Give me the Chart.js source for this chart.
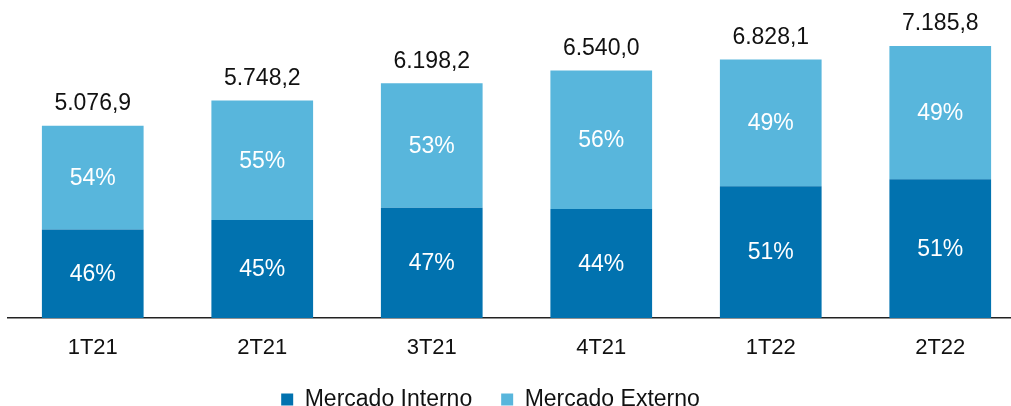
<!DOCTYPE html>
<html>
<head>
<meta charset="utf-8">
<script src="https://cdn.jsdelivr.net/npm/chart.js@4.4.1/dist/chart.umd.min.js"></script>
<style>
    html, body { margin: 0; padding: 0; background: #fff; overflow: hidden; width: 1011px; height: 406px; }
    #wrap { width: 1025px; height: 421px; }
</style>
</head>
<body>
<div id="wrap"><canvas id="receitaChart"></canvas></div>
<script>
const periods = ['1T21', '2T21', '3T21', '4T21', '1T22', '2T22'];
const totals = [5076.9, 5748.2, 6198.2, 6540.0, 6828.1, 7185.8];
const internoPct = [46, 45, 47, 44, 51, 51];
const externoPct = [54, 55, 53, 56, 49, 49];

const FONT = '"Liberation Sans", Arial, sans-serif';

// segment values built from totals and shares
const internoValues = totals.map((t, i) => t * internoPct[i] / 100);
const externoValues = totals.map((t, i) => t * externoPct[i] / 100);

const formatTotal = (v) => {
    const parts = v.toFixed(1).split('.');
    const intPart = parts[0].replace(/\B(?=(\d{3})+(?!\d))/g, '.');
    return intPart + ',' + parts[1];
};

// draws the % inside each segment and the total above the stack
const labelsPlugin = {
    id: 'barLabels',
    afterLayout(chart) {
        // legend sits a bit left of the canvas centre in the original
        chart.legend.left -= 26;
        chart.legend.right -= 26;
    },
    afterDatasetsDraw(chart) {
        const ctx = chart.ctx;
        ctx.save();
        ctx.font = '23px ' + FONT;
        ctx.textAlign = 'center';
        ctx.textBaseline = 'middle';

        const pctSets = [internoPct, externoPct];
        chart.data.datasets.forEach((ds, di) => {
            const meta = chart.getDatasetMeta(di);
            meta.data.forEach((bar, i) => {
                const mid = (bar.y + bar.base) / 2;
                ctx.fillStyle = '#ffffff';
                ctx.fillText(pctSets[di][i] + '%', bar.x, mid + 1);
            });
        });

        const topMeta = chart.getDatasetMeta(1);
        topMeta.data.forEach((bar, i) => {
            ctx.fillStyle = '#111111';
            ctx.fillText(formatTotal(totals[i]), bar.x, bar.y - 22);
        });
        ctx.restore();
    }
};

new Chart(document.getElementById('receitaChart'), {
    type: 'bar',
    data: {
        labels: periods,
        datasets: [
            {
                label: 'Mercado Interno',
                data: internoValues,
                backgroundColor: '#0172AF',
                barPercentage: 0.6,
                categoryPercentage: 1
            },
            {
                label: 'Mercado Externo',
                data: externoValues,
                backgroundColor: '#58B6DC',
                barPercentage: 0.6,
                categoryPercentage: 1
            }
        ]
    },
    options: {
        responsive: true,
        maintainAspectRatio: false,
        animation: false,
        layout: { padding: { left: 8, right: 0, top: 0, bottom: 0 } },
        plugins: {
            legend: {
                position: 'bottom',
                labels: {
                    font: { family: FONT, size: 23 },
                    color: '#111111',
                    boxWidth: 12,
                    boxHeight: 12,
                    padding: 29
                }
            },
            tooltip: { enabled: false }
        },
        scales: {
            x: {
                stacked: true,
                grid: { display: false, drawTicks: false },
                border: { display: true, color: '#222222', width: 1.5 },
                ticks: {
                    font: { family: FONT, size: 22 },
                    color: '#111111',
                    padding: 17
                },
                afterFit(scale) {
                    scale.height = 41;
                }
            },
            y: {
                stacked: true,
                display: false,
                min: 0,
                max: 8400
            }
        }
    },
    plugins: [labelsPlugin]
});
</script>
</body>
</html>
